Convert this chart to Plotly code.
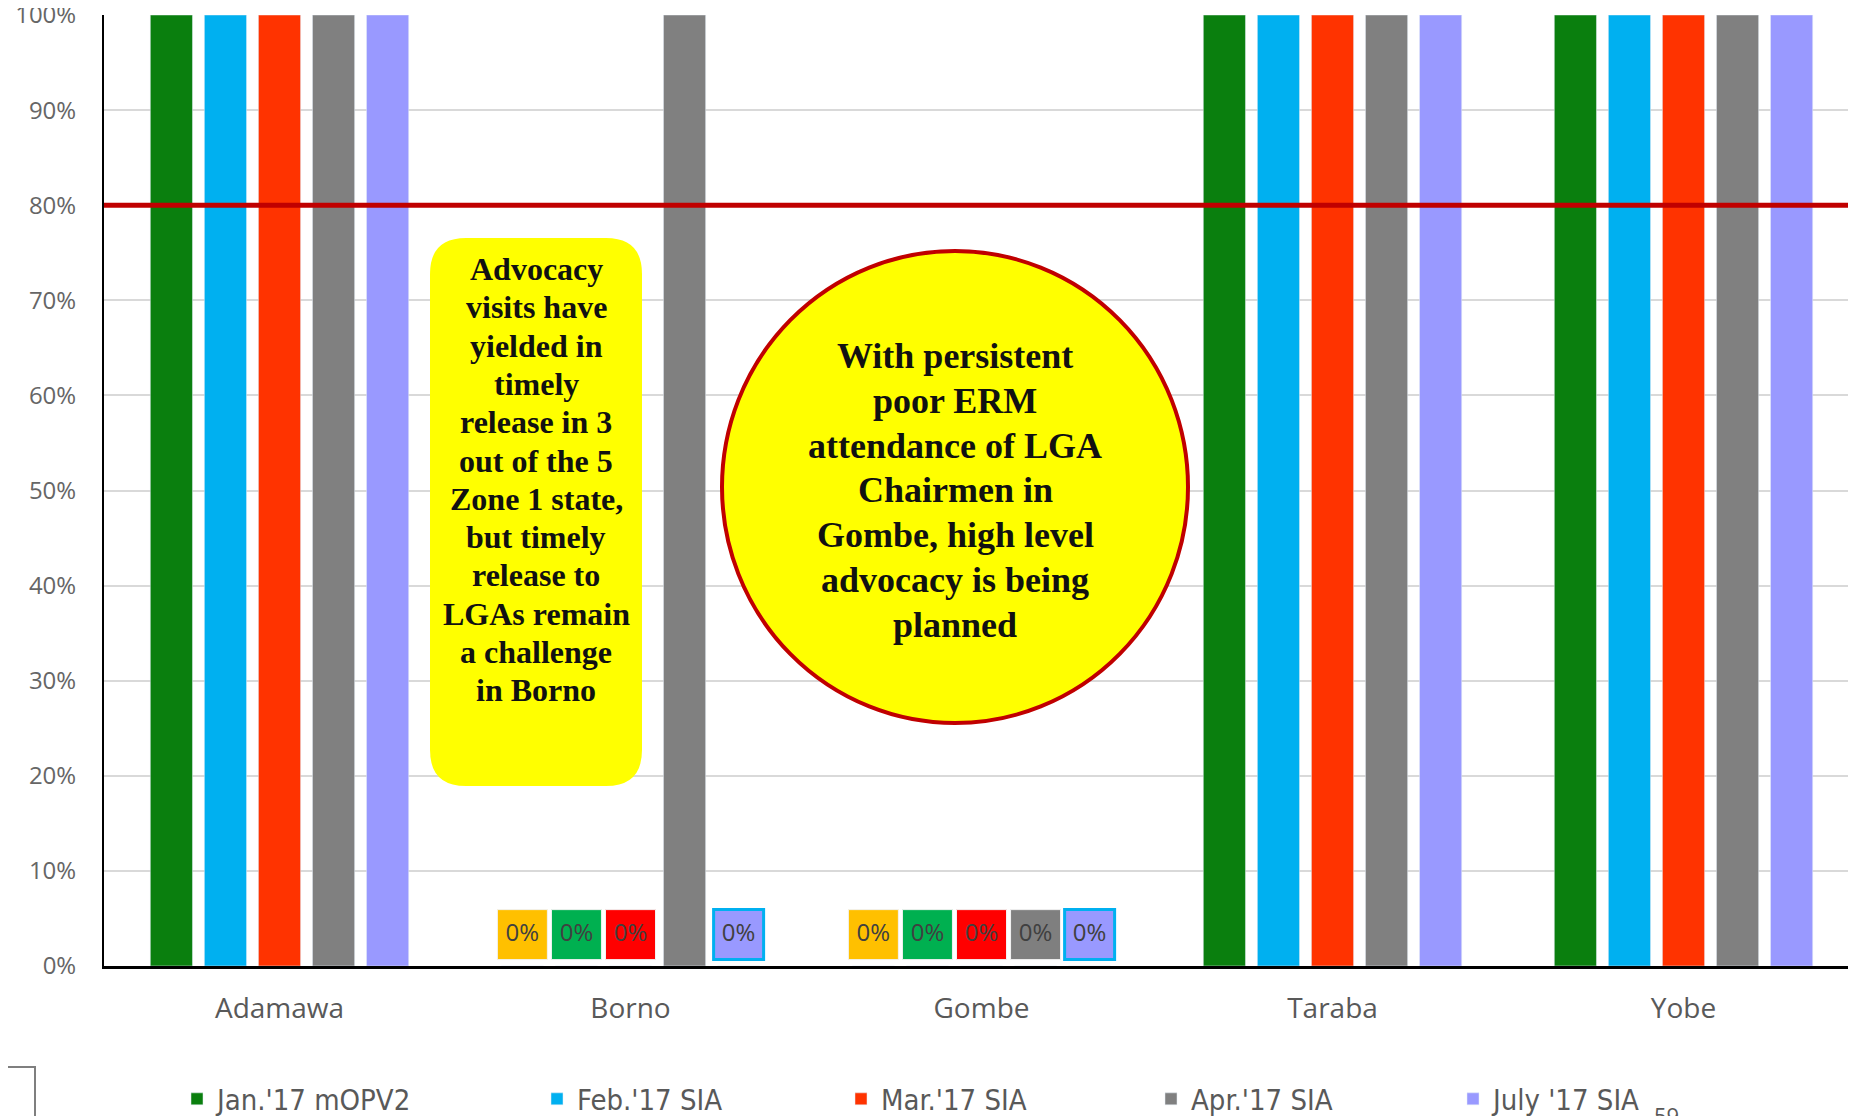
import plotly.graph_objects as go

# ---------------- data ----------------
states = ["Adamawa", "Borno", "Gombe", "Taraba", "Yobe"]
series_names = ["Jan.'17 mOPV2", "Feb.'17 SIA", "Mar.'17 SIA", "Apr.'17 SIA", "July '17 SIA"]
jan = [1.0, 0.0, 0.0, 1.0, 1.0]
feb = [1.0, 0.0, 0.0, 1.0, 1.0]
mar = [1.0, 0.0, 0.0, 1.0, 1.0]
apr = [1.0, 1.0, 0.0, 1.0, 1.0]
jul = [1.0, 0.0, 0.0, 1.0, 1.0]
target = 0.8
y_ticks = [0.0, 0.1, 0.2, 0.3, 0.4, 0.5, 0.6, 0.7, 0.8, 0.9, 1.0]

box_lines = ["Advocacy", "visits have", "yielded in", "timely", "release in 3", "out of the 5",
             "Zone 1 state,", "but timely", "release to", "LGAs remain", "a challenge", "in Borno"]
circle_lines = ["With persistent", "poor ERM", "attendance of LGA", "Chairmen in",
                "Gombe, high level", "advocacy is being", "planned"]

bar_colors = ["#0A7F0E", "#00B0F0", "#FF3300", "#808080", "#9999FF"]
label_fill = ["#FFC000", "#00B050", "#FF0000", "#7F7F7F", "#9999FF"]
label_edge = ["#F2F2F2", "#F2F2F2", "#F2F2F2", "#F2F2F2", "#00B0F0"]
legend_sq_left = [192, 552, 856, 1166, 1468]   # page px of each legend entry

# ------------- geometry helpers (page px -> paper) -------------
W, H = 1856, 1116
OFF = 8                      # browser body margin
ML, MR, MT, MB = 96, 5, 7, 158
PW, PH = W - ML - MR, H - MT - MB


def px(x):
    return (x - OFF - ML) / PW


def py(y):
    return 1 - (y - OFF - MT) / PH


fig = go.Figure()

all_series = [jan, feb, mar, apr, jul]
for i, (name, vals) in enumerate(zip(series_names, all_series)):
    lg = "legend" if i == 0 else f"legend{i + 1}"
    fig.add_trace(go.Bar(
        x=states, y=vals, name=name, marker_color=bar_colors[i],
        offsetgroup=str(i), legend=lg, hoverinfo="skip"))

# "0%" data labels (boxed) for zero values
label_pad = 0.033
for i, vals in enumerate(all_series):
    ys = [v + label_pad if v == 0 else None for v in vals]
    fig.add_trace(go.Scatter(
        x=states, y=ys, mode="markers+text", orientation="v",
        offsetgroup=str(i), showlegend=False, hoverinfo="skip",
        text=[f"{v:.0%}" if v == 0 else "" for v in vals],
        textposition="middle center",
        textfont=dict(family="Open Sans", size=24, color="#404040"),
        marker=dict(symbol="square", size=50, color=label_fill[i],
                    line=dict(color=label_edge[i], width=3 if i == 4 else 1))))

# 80% target line
fig.add_shape(type="line", xref="paper", yref="y", x0=0, x1=1, y0=target, y1=target,
              line=dict(color="#C00000", width=5), layer="above")

# rounded yellow call-out box
x0, x1, y0, y1, r = 430, 642, 238, 786, 36
path = (f"M{px(x0 + r)},{py(y0)} L{px(x1 - r)},{py(y0)} Q{px(x1)},{py(y0)} {px(x1)},{py(y0 + r)} "
        f"L{px(x1)},{py(y1 - r)} Q{px(x1)},{py(y1)} {px(x1 - r)},{py(y1)} "
        f"L{px(x0 + r)},{py(y1)} Q{px(x0)},{py(y1)} {px(x0)},{py(y1 - r)} "
        f"L{px(x0)},{py(y0 + r)} Q{px(x0)},{py(y0)} {px(x0 + r)},{py(y0)} Z")
fig.add_shape(type="path", xref="paper", yref="paper", path=path,
              fillcolor="#FFFF00", line=dict(width=0), layer="above")
for k, line in enumerate(box_lines):
    fig.add_annotation(
        xref="paper", yref="paper", x=px(536), y=py(269 + k * 38.3),
        xanchor="center", yanchor="middle", showarrow=False, text=line,
        font=dict(family="Liberation Serif", size=32, color="#111111", weight="bold"))

# yellow circle call-out
fig.add_shape(type="circle", xref="paper", yref="paper",
              x0=px(722), x1=px(1188), y0=py(723), y1=py(251),
              fillcolor="#FFFF00", line=dict(color="#C00000", width=4), layer="above")
for k, line in enumerate(circle_lines):
    fig.add_annotation(
        xref="paper", yref="paper", x=px(955), y=py(356 + k * 44.8),
        xanchor="center", yanchor="middle", showarrow=False, text=line,
        font=dict(family="Liberation Serif", size=36, color="#111111", weight="bold"))

# slide leftovers: corner box and page number
fig.add_shape(type="rect", xref="paper", yref="paper",
              x0=px(-5), x1=px(35), y0=py(1130), y1=py(1067),
              line=dict(color="#7F7F7F", width=2))
fig.add_annotation(xref="paper", yref="paper", x=px(1666), y=py(1098),
                   xanchor="center", yanchor="top", showarrow=False, text="59",
                   font=dict(family="Open Sans", size=22, color="#595959"))

legend_common = dict(orientation="h", xanchor="left", yanchor="middle",
                     bgcolor="rgba(0,0,0,0)", borderwidth=0,
                     font=dict(family="DejaVu Sans Condensed, DejaVu Sans, sans-serif",
                               size=29, color="#595959"))
legends = {}
for i, sq in enumerate(legend_sq_left):
    key = "legend" if i == 0 else f"legend{i + 1}"
    legends[key] = dict(legend_common, x=px(sq - 15), y=py(1099))

fig.update_layout(
    width=W, height=H,
    margin=dict(l=ML, r=MR, t=MT, b=MB, autoexpand=False),
    paper_bgcolor="white", plot_bgcolor="white",
    barmode="group", bargap=0.23, bargroupgap=0.22,
    scattermode="group", scattergap=0.23,
    showlegend=True,
    xaxis=dict(range=[-0.5, 4.5], showline=True, linecolor="black", linewidth=3,
               ticks="", ticklabelstandoff=15,
               tickfont=dict(family="Open Sans", size=28, color="#595959")),
    yaxis=dict(range=[0, 1], tickvals=y_ticks, tickformat=".0%", showgrid=True,
               gridcolor="#D9D9D9", gridwidth=2, zeroline=False,
               showline=True, linecolor="black", linewidth=2,
               ticks="", ticklabelstandoff=21, ticklabeloverflow="allow",
               tickfont=dict(family="Open Sans", size=24, color="#666666")),
    **legends,
)

fig.write_html("out.html")
